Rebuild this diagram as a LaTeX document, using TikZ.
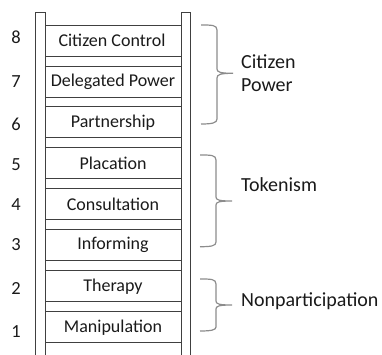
\documentclass[tikz,border=0pt]{standalone}
\usepackage{fontspec}
\setmainfont{Carlito}
\definecolor{railgray}{HTML}{404040}
\definecolor{bracegray}{HTML}{8C8C8C}
\definecolor{txt}{HTML}{1A1A1A}
\begin{document}
\begin{tikzpicture}[x=1pt,y=-1pt,
  railline/.style={draw=railgray,line width=1pt},
  rungline/.style={draw=railgray,line width=0.9pt},
  bracepath/.style={draw=bracegray,line width=1.2pt},
  steplabel/.style={font=\fontsize{18}{21}\selectfont,text=txt,inner sep=0pt},
  numlabel/.style={font=\fontsize{18.5}{22}\selectfont,text=txt,inner sep=0pt},
  grouplabel/.style={font=\fontsize{20}{23}\selectfont,text=txt,inner sep=0pt,anchor=west,align=left}]
\useasboundingbox (0,0) rectangle (382,354);
% rails
\draw[railline] (35,360) -- (35,12) -- (45,12) -- (45,360);
\draw[railline] (181,360) -- (181,12) -- (190,12) -- (190,360);
% rungs
\foreach \i in {0,...,7}{
  \pgfmathsetmacro{\yt}{25+40.95*\i}
  \pgfmathsetmacro{\yb}{\yt+31}
  \draw[rungline] (45,\yt) -- (181,\yt);
  \draw[rungline] (45,\yb) -- (181,\yb);
}
% step labels
\node[steplabel] (s8) at (112,40.5) {Citizen Control};
\node[steplabel] (s7) at (113,81.5) {Delegated Power};
\node[steplabel] (s6) at (113,122.4) {Partnership};
\node[steplabel] (s5) at (113,163.4) {Placation};
\node[steplabel] (s4) at (113,204.3) {Consultation};
\node[steplabel] (s3) at (113,245.3) {Informing};
\node[steplabel] (s2) at (113,286.2) {Therapy};
\node[steplabel] (s1) at (113,327.2) {Manipulation};
% numbers
\node[numlabel] (n8) at (16,37) {8};
\node[numlabel] (n7) at (16,82) {7};
\node[numlabel] (n6) at (16,124) {6};
\node[numlabel] (n5) at (16,165) {5};
\node[numlabel] (n4) at (16,205) {4};
\node[numlabel] (n3) at (16,245) {3};
\node[numlabel] (n2) at (16,288) {2};
\node[numlabel] (n1) at (16,332) {1};
% braces
\draw[bracepath] (201,25) .. controls (212,25) and (217,25) .. (217,30)
  -- (217,69) .. controls (217,72) and (220,73.3) .. (233,73.3)
  .. controls (220,73.3) and (217,74.6) .. (217,78)
  -- (217,119) .. controls (217,123) and (212,124) .. (201,124);
\draw[bracepath] (200,155) .. controls (211,155) and (216,155) .. (216,160)
  -- (216,197) .. controls (216,200) and (219,201) .. (232,201)
  .. controls (219,201) and (216,202) .. (216,205)
  -- (216,242) .. controls (216,246) and (211,246.7) .. (200,246.7);
\draw[bracepath] (200,279) .. controls (211,279) and (216,279) .. (216,284)
  -- (216,301) .. controls (216,304) and (219,305) .. (232,305)
  .. controls (219,305) and (216,306) .. (216,309)
  -- (216,327) .. controls (216,330) and (211,331) .. (200,331);
% group labels
\node[grouplabel] (g1) at (241,73.5) {Citizen\\Power};
\node[grouplabel] (g2) at (241,185) {Tokenism};
\node[grouplabel] (g3) at (241,301.5) {Nonparticipation};
\end{tikzpicture}
\end{document}
